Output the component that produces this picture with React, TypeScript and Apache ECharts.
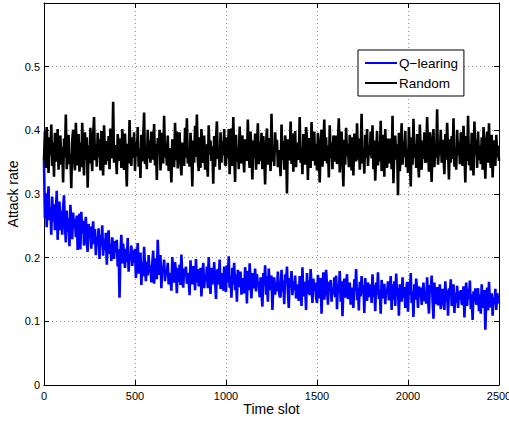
import React, { useEffect, useRef } from "react";
import * as echarts from "echarts";

// Time slots sampled every 5 slots, 0..2500
const STEP = 5;

const randomRate: number[] = [
  0.352, 0.398, 0.341, 0.405, 0.372, 0.333, 0.389, 0.361, 0.409, 0.344, 0.381, 0.327, 0.396, 0.366, 0.351, 0.402, 0.338, 0.378, 0.392, 0.346,
  0.374, 0.318, 0.387, 0.358, 0.425, 0.339, 0.371, 0.393, 0.347, 0.362, 0.309, 0.384, 0.401, 0.356, 0.337, 0.412, 0.368, 0.345, 0.394, 0.335,
  0.381, 0.342, 0.412, 0.364, 0.329, 0.397, 0.354, 0.389, 0.310, 0.376, 0.348, 0.404, 0.367, 0.336, 0.391, 0.421, 0.353, 0.379, 0.343, 0.396,
  0.358, 0.386, 0.337, 0.399, 0.371, 0.329, 0.408, 0.362, 0.346, 0.383, 0.352, 0.391, 0.339, 0.403, 0.368, 0.356, 0.445, 0.349, 0.377, 0.361,
  0.331, 0.394, 0.372, 0.352, 0.387, 0.341, 0.402, 0.363, 0.338, 0.395, 0.355, 0.312, 0.379, 0.348, 0.416, 0.366, 0.344, 0.389, 0.357, 0.397,
  0.336, 0.382, 0.359, 0.405, 0.343, 0.371, 0.325, 0.393, 0.351, 0.388, 0.428, 0.347, 0.369, 0.339, 0.401, 0.356, 0.384, 0.349, 0.398, 0.362,
  0.354, 0.410, 0.345, 0.379, 0.322, 0.388, 0.367, 0.401, 0.337, 0.361, 0.396, 0.348, 0.423, 0.357, 0.381, 0.345, 0.392, 0.336, 0.372, 0.353,
  0.318, 0.386, 0.369, 0.342, 0.412, 0.353, 0.398, 0.340, 0.375, 0.397, 0.351, 0.329, 0.381, 0.364, 0.344, 0.404, 0.357, 0.419, 0.348, 0.372,
  0.343, 0.396, 0.366, 0.312, 0.384, 0.349, 0.407, 0.358, 0.425, 0.354, 0.336, 0.389, 0.341, 0.402, 0.373, 0.349, 0.392, 0.338, 0.378, 0.361,
  0.327, 0.408, 0.362, 0.384, 0.352, 0.375, 0.316, 0.391, 0.343, 0.385, 0.414, 0.355, 0.369, 0.338, 0.397, 0.349, 0.383, 0.361, 0.402, 0.346,
  0.345, 0.389, 0.356, 0.402, 0.331, 0.368, 0.403, 0.344, 0.421, 0.362, 0.319, 0.393, 0.351, 0.374, 0.339, 0.406, 0.365, 0.348, 0.392, 0.357,
  0.334, 0.386, 0.371, 0.352, 0.417, 0.359, 0.341, 0.398, 0.365, 0.323, 0.384, 0.356, 0.395, 0.338, 0.369, 0.411, 0.347, 0.382, 0.352, 0.396,
  0.339, 0.391, 0.358, 0.315, 0.377, 0.403, 0.346, 0.388, 0.362, 0.336, 0.426, 0.351, 0.374, 0.344, 0.397, 0.366, 0.385, 0.342, 0.369, 0.355,
  0.328, 0.409, 0.353, 0.383, 0.338, 0.392, 0.376, 0.301, 0.386, 0.353, 0.358, 0.414, 0.347, 0.395, 0.335, 0.368, 0.399, 0.342, 0.381, 0.354,
  0.358, 0.421, 0.349, 0.372, 0.331, 0.394, 0.364, 0.346, 0.405, 0.387, 0.322, 0.388, 0.356, 0.341, 0.413, 0.367, 0.352, 0.398, 0.345, 0.379,
  0.337, 0.396, 0.361, 0.318, 0.379, 0.401, 0.343, 0.369, 0.417, 0.352, 0.389, 0.348, 0.376, 0.326, 0.408, 0.356, 0.381, 0.339, 0.392, 0.363,
  0.351, 0.392, 0.347, 0.383, 0.419, 0.334, 0.371, 0.398, 0.353, 0.312, 0.385, 0.346, 0.404, 0.359, 0.378, 0.342, 0.393, 0.368, 0.337, 0.389,
  0.329, 0.395, 0.374, 0.351, 0.411, 0.354, 0.387, 0.338, 0.366, 0.426, 0.348, 0.372, 0.332, 0.393, 0.357, 0.402, 0.344, 0.377, 0.361, 0.398,
  0.356, 0.408, 0.339, 0.384, 0.321, 0.364, 0.399, 0.345, 0.382, 0.351, 0.415, 0.336, 0.374, 0.393, 0.327, 0.402, 0.358, 0.341, 0.387, 0.363,
  0.348, 0.387, 0.339, 0.423, 0.317, 0.372, 0.392, 0.354, 0.378, 0.298, 0.396, 0.336, 0.361, 0.411, 0.346, 0.383, 0.358, 0.399, 0.342, 0.371,
  0.333, 0.405, 0.365, 0.312, 0.389, 0.346, 0.418, 0.357, 0.379, 0.341, 0.394, 0.352, 0.326, 0.409, 0.369, 0.338, 0.384, 0.355, 0.397, 0.349,
  0.352, 0.421, 0.374, 0.335, 0.397, 0.353, 0.319, 0.388, 0.402, 0.342, 0.376, 0.357, 0.433, 0.346, 0.371, 0.362, 0.401, 0.349, 0.385, 0.358,
  0.331, 0.394, 0.354, 0.412, 0.368, 0.323, 0.386, 0.349, 0.391, 0.355, 0.419, 0.343, 0.372, 0.338, 0.401, 0.361, 0.382, 0.347, 0.397, 0.364,
  0.344, 0.407, 0.367, 0.318, 0.391, 0.352, 0.423, 0.345, 0.378, 0.337, 0.396, 0.356, 0.329, 0.414, 0.361, 0.385, 0.341, 0.398, 0.353, 0.376,
  0.347, 0.389, 0.338, 0.405, 0.362, 0.324, 0.382, 0.398, 0.349, 0.411, 0.357, 0.341, 0.393, 0.326, 0.372, 0.384, 0.344, 0.393, 0.358, 0.376,
  0.352,
];

const qLearningRate: number[] = [
  0.352, 0.262, 0.301, 0.248, 0.289, 0.312, 0.259, 0.279, 0.236, 0.296, 0.257, 0.284, 0.243, 0.271, 0.305, 0.228, 0.267, 0.288, 0.243, 0.274,
  0.236, 0.279, 0.298, 0.251, 0.224, 0.274, 0.241, 0.262, 0.218, 0.283, 0.255, 0.229, 0.271, 0.247, 0.261, 0.232, 0.266, 0.212, 0.258, 0.269,
  0.213, 0.272, 0.238, 0.258, 0.219, 0.246, 0.264, 0.226, 0.209, 0.253, 0.231, 0.249, 0.214, 0.237, 0.257, 0.221, 0.245, 0.204, 0.232, 0.226,
  0.246, 0.198, 0.236, 0.218, 0.251, 0.203, 0.229, 0.212, 0.239, 0.189, 0.224, 0.243, 0.206, 0.221, 0.195, 0.232, 0.215, 0.198, 0.226, 0.209,
  0.228, 0.186, 0.213, 0.137, 0.207, 0.236, 0.191, 0.222, 0.202, 0.184, 0.214, 0.193, 0.231, 0.178, 0.205, 0.196, 0.219, 0.187, 0.211, 0.192,
  0.214, 0.168, 0.197, 0.223, 0.175, 0.189, 0.208, 0.157, 0.193, 0.171, 0.217, 0.186, 0.163, 0.194, 0.172, 0.204, 0.176, 0.188, 0.161, 0.191,
  0.211, 0.159, 0.182, 0.199, 0.166, 0.228, 0.186, 0.173, 0.204, 0.152, 0.187, 0.178, 0.197, 0.163, 0.181, 0.174, 0.192, 0.158, 0.176, 0.168,
  0.148, 0.201, 0.172, 0.161, 0.193, 0.179, 0.144, 0.184, 0.162, 0.189, 0.157, 0.205, 0.168, 0.153, 0.183, 0.171, 0.186, 0.159, 0.176, 0.165,
  0.141, 0.196, 0.167, 0.158, 0.187, 0.176, 0.149, 0.198, 0.161, 0.182, 0.155, 0.169, 0.184, 0.139, 0.171, 0.192, 0.152, 0.173, 0.163, 0.186,
  0.152, 0.201, 0.166, 0.143, 0.184, 0.169, 0.158, 0.193, 0.164, 0.135, 0.177, 0.182, 0.158, 0.197, 0.151, 0.167, 0.176, 0.148, 0.186, 0.162,
  0.146, 0.188, 0.161, 0.202, 0.153, 0.171, 0.137, 0.184, 0.158, 0.192, 0.149, 0.174, 0.131, 0.181, 0.163, 0.154, 0.178, 0.142, 0.168, 0.161,
  0.144, 0.185, 0.168, 0.128, 0.179, 0.149, 0.191, 0.159, 0.136, 0.176, 0.164, 0.152, 0.183, 0.147, 0.174, 0.157, 0.162, 0.138, 0.169, 0.146,
  0.123, 0.176, 0.156, 0.188, 0.142, 0.171, 0.131, 0.183, 0.158, 0.149, 0.172, 0.118, 0.155, 0.169, 0.142, 0.161, 0.147, 0.178, 0.153, 0.139,
  0.138, 0.181, 0.147, 0.164, 0.127, 0.174, 0.159, 0.186, 0.146, 0.121, 0.168, 0.153, 0.179, 0.141, 0.163, 0.149, 0.172, 0.136, 0.158, 0.144,
  0.132, 0.171, 0.158, 0.124, 0.185, 0.139, 0.162, 0.154, 0.118, 0.176, 0.143, 0.164, 0.141, 0.182, 0.156, 0.129, 0.167, 0.148, 0.161, 0.137,
  0.129, 0.173, 0.151, 0.136, 0.168, 0.112, 0.157, 0.177, 0.134, 0.148, 0.181, 0.156, 0.126, 0.162, 0.147, 0.165, 0.131, 0.152, 0.143, 0.169,
  0.138, 0.172, 0.119, 0.159, 0.146, 0.179, 0.131, 0.163, 0.108, 0.152, 0.167, 0.137, 0.158, 0.174, 0.135, 0.148, 0.161, 0.126, 0.153, 0.143,
  0.121, 0.166, 0.148, 0.182, 0.133, 0.152, 0.117, 0.162, 0.139, 0.171, 0.143, 0.157, 0.113, 0.168, 0.149, 0.132, 0.161, 0.146, 0.138, 0.158,
  0.129, 0.174, 0.138, 0.157, 0.116, 0.161, 0.142, 0.177, 0.135, 0.149, 0.112, 0.165, 0.147, 0.136, 0.159, 0.127, 0.151, 0.144, 0.163, 0.133,
  0.142, 0.171, 0.118, 0.158, 0.134, 0.163, 0.124, 0.175, 0.139, 0.152, 0.109, 0.158, 0.146, 0.131, 0.169, 0.137, 0.154, 0.121, 0.148, 0.162,
  0.115, 0.162, 0.141, 0.176, 0.129, 0.147, 0.107, 0.158, 0.134, 0.167, 0.149, 0.121, 0.155, 0.138, 0.153, 0.126, 0.143, 0.161, 0.132, 0.139,
  0.128, 0.169, 0.137, 0.112, 0.157, 0.146, 0.172, 0.133, 0.104, 0.161, 0.127, 0.148, 0.154, 0.125, 0.141, 0.158, 0.119, 0.136, 0.151, 0.131,
  0.118, 0.163, 0.131, 0.149, 0.109, 0.152, 0.142, 0.166, 0.124, 0.138, 0.158, 0.113, 0.145, 0.129, 0.156, 0.121, 0.147, 0.134, 0.149, 0.127,
  0.127, 0.155, 0.106, 0.141, 0.161, 0.124, 0.151, 0.135, 0.164, 0.119, 0.143, 0.102, 0.147, 0.131, 0.152, 0.126, 0.138, 0.152, 0.116, 0.142,
  0.112, 0.158, 0.121, 0.139, 0.149, 0.087, 0.135, 0.153, 0.117, 0.162, 0.131, 0.122, 0.144, 0.109, 0.138, 0.127, 0.151, 0.118, 0.144, 0.135,
  0.128,
];

const seriesNames = ["Q\u2212learing", "Random"];
const seriesColors = ["#0000ff", "#000000"];
const xTicks = { min: 0, max: 2500, interval: 500 };
const yTicks = { min: 0, max: 0.6, interval: 0.1 };

const FONT = "'Liberation Sans', Arial, Helvetica, sans-serif";

export default function App() {
  const ref = useRef<HTMLDivElement>(null);
  useEffect(() => {
    if (!ref.current) return;
    const chart = echarts.init(ref.current, undefined, { renderer: "svg" });
    const toPairs = (arr: number[]) => arr.map((v, i) => [i * STEP, v]);
    const axisLine = { show: true, onZero: false, lineStyle: { color: "#000", width: 1 } };
    const tick = { show: true, inside: true, length: 5, lineStyle: { color: "#000" } };
    const split = { show: true, lineStyle: { color: "#999", type: [1, 3], width: 1 } };
    chart.setOption({
      animation: false,
      backgroundColor: "#fff",
      textStyle: { fontFamily: FONT },
      grid: {
        left: 44,
        right: 10,
        top: 3,
        bottom: 40,
        containLabel: false,
        outerBoundsMode: "none",
      },
      legend: {
        orient: "vertical",
        left: 358,
        top: 50,
        backgroundColor: "#fff",
        borderColor: "#000",
        borderWidth: 1,
        padding: [6, 6, 6, 7],
        itemGap: 6,
        itemWidth: 32,
        itemHeight: 2,
        icon: "rect",
        textStyle: {
          fontFamily: FONT,
          fontSize: 13.5,
          color: "#000",
          lineHeight: 14,
          padding: [0, 0, 0, -3],
        },
        data: seriesNames,
      },
      xAxis: [
        {
          type: "value",
          ...xTicks,
          position: "bottom",
          name: "Time slot",
          nameLocation: "middle",
          nameGap: 17,
          nameMoveOverlap: false,
          nameTextStyle: { fontFamily: FONT, fontSize: 14, color: "#000" },
          axisLine,
          axisTick: tick,
          splitLine: split,
          axisLabel: {
            fontFamily: FONT,
            fontSize: 11,
            color: "#000",
            margin: 5,
            formatter: (v: number) => String(Math.round(v)),
          },
        },
        {
          type: "value",
          ...xTicks,
          position: "top",
          axisLine,
          axisTick: tick,
          splitLine: { show: false },
          axisLabel: { show: false },
        },
      ],
      yAxis: [
        {
          type: "value",
          ...yTicks,
          position: "left",
          name: "Attack rate",
          nameLocation: "middle",
          nameGap: 24,
          nameMoveOverlap: false,
          nameTextStyle: { fontFamily: FONT, fontSize: 14, color: "#000" },
          axisLine,
          axisTick: tick,
          splitLine: split,
          axisLabel: {
            fontFamily: FONT,
            fontSize: 11,
            color: "#000",
            margin: 4,
            formatter: (v: number) => (v >= 0.59 ? "" : v === 0 ? "0" : v.toFixed(1)),
          },
        },
        {
          type: "value",
          ...yTicks,
          position: "right",
          axisLine,
          axisTick: tick,
          splitLine: { show: false },
          axisLabel: { show: false },
        },
      ],
      series: [
        {
          name: seriesNames[0],
          type: "line",
          data: toPairs(qLearningRate),
          symbol: "none",
          color: seriesColors[0],
          lineStyle: { color: seriesColors[0], width: 2.6 },
          z: 3,
        },
        {
          name: seriesNames[1],
          type: "line",
          data: toPairs(randomRate),
          symbol: "none",
          color: seriesColors[1],
          lineStyle: { color: seriesColors[1], width: 2.6 },
          z: 3,
        },
      ],
    });
    return () => chart.dispose();
  }, []);
  return (
    <div
      ref={ref}
      style={{ position: "fixed", left: 0, top: 0, width: 509, height: 425, background: "#fff" }}
    />
  );
}
